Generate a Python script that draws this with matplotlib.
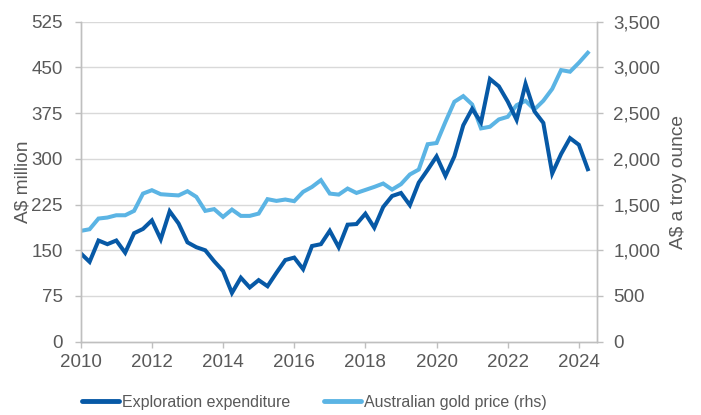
import matplotlib
matplotlib.use("Agg")
import matplotlib.pyplot as plt
import numpy as np

plt.rcParams['font.family'] = ['Liberation Sans', 'DejaVu Sans']

# Quarterly data, 2010 Q1 .. 2024 Q2
start_year = 2010
exploration = [145, 131, 166, 160, 166, 146, 178, 185, 199, 168,
               214, 194, 163, 155, 150, 132, 116, 80, 105, 89,
               101, 91, 113, 134, 138, 119, 157, 160, 182, 155,
               192, 193, 210, 187, 221, 239, 244, 224, 261, 282,
               304, 272, 304, 355, 382, 360, 431, 419, 394, 364,
               423, 378, 359, 276, 308, 334, 323, 283]
gold_price = [1212, 1230, 1347, 1358, 1383, 1383, 1431, 1620, 1657, 1613,
              1606, 1600, 1646, 1584, 1431, 1450, 1365, 1445, 1376, 1376,
              1401, 1559, 1540, 1555, 1537, 1639, 1693, 1767, 1620, 1609,
              1675, 1627, 1660, 1693, 1730, 1664, 1723, 1829, 1883, 2160,
              2173, 2405, 2624, 2686, 2595, 2333, 2351, 2431, 2460, 2587,
              2635, 2540, 2635, 2765, 2971, 2953, 3051, 3160]
x_ticks = [2010, 2012, 2014, 2016, 2018, 2020, 2022, 2024]
left_ticks = [0, 75, 150, 225, 300, 375, 450, 525]
right_ticks = [0, 500, 1000, 1500, 2000, 2500, 3000, 3500]

x = start_year + np.arange(len(exploration)) / 4.0

dark = '#0759A6'
light = '#5BB4E4'
grey_txt = '#595959'
grey_ax = '#BFBFBF'
grid_c = '#D9D9D9'

W, H = 701, 415
fig = plt.figure(figsize=(W / 100, H / 100), dpi=100)
ax = fig.add_axes([80.7 / W, (H - 341.7) / H, 516 / W, 320 / H])
ax2 = ax.twinx()

ax.set_zorder(ax2.get_zorder() + 1)
ax.patch.set_visible(False)

l2, = ax2.plot(x, gold_price, color=light, lw=2.9, solid_joinstyle='miter',
               label='Australian gold price (rhs)')
l1, = ax.plot(x, exploration, color=dark, lw=2.9, solid_joinstyle='miter',
              label='Exploration expenditure')

ax.set_xlim(2010, 2024.5)
ax.set_ylim(0, 525)
ax2.set_ylim(0, 3500)
ax.set_xticks(x_ticks)
ax.set_yticks(left_ticks)
ax2.set_yticks(right_ticks)
ax2.set_yticklabels([f'{v:,}' for v in right_ticks])

for v in left_ticks[1:]:
    ax2.axhline(v * 3500 / 525, color=grid_c, lw=1, zorder=0)

for a in (ax, ax2):
    a.spines['top'].set_visible(False)
    for s in ('left', 'right', 'bottom'):
        a.spines[s].set_color(grey_ax)
        a.spines[s].set_linewidth(1)
    a.tick_params(axis='both', colors=grey_ax, labelcolor=grey_txt,
                  labelsize=13.5, length=4, width=1, direction='out')
ax.tick_params(axis='x', pad=5)
ax.tick_params(axis='y', pad=9)
ax2.tick_params(axis='y', pad=8)

ax.set_ylabel('A$ million', color=grey_txt, fontsize=13.8, labelpad=0)
ax2.set_ylabel('A$ a troy ounce', color=grey_txt, fontsize=13.8, labelpad=7)

leg = fig.legend([l1, l2], ['Exploration expenditure', 'Australian gold price (rhs)'],
                 loc='center', bbox_to_anchor=(314.5 / W, (H - 402) / H),
                 ncol=2, frameon=False, fontsize=11.5, handlelength=2.3,
                 handletextpad=0.2, columnspacing=2.1, labelcolor=grey_txt,
                 borderpad=0, borderaxespad=0)
for h in leg.get_lines():
    h.set_linewidth(3.5)
    h.set_solid_capstyle('round')

fig.savefig('out.png', dpi=100)
